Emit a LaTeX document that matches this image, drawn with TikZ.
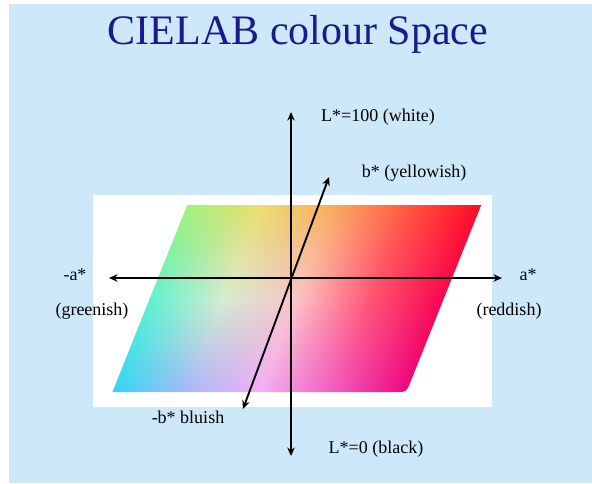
\documentclass[tikz,border=0pt]{standalone}
\usepackage{fontspec}
\setmainfont{Liberation Serif}
\usetikzlibrary{arrows.meta,shadings}
\definecolor{bgblue}{HTML}{CCE8F9}
\definecolor{titleblue}{HTML}{1A1A8C}
% top row
\definecolor{tA}{HTML}{A4F278}
\definecolor{tB}{HTML}{EEDC6E}
\definecolor{tC}{HTML}{FAAA5E}
\definecolor{tD}{HTML}{FF5840}
\definecolor{tE}{HTML}{FF0A26}
% middle row
\definecolor{mA}{HTML}{60F2D0}
\definecolor{mB}{HTML}{D6ECD0}
\definecolor{mC}{HTML}{FAC4C8}
\definecolor{mD}{HTML}{FF5474}
\definecolor{mE}{HTML}{F8064E}
% bottom row
\definecolor{bA}{HTML}{34D4F8}
\definecolor{bB}{HTML}{A6B8F8}
\definecolor{bC}{HTML}{F4AEF6}
\definecolor{bD}{HTML}{F25CBE}
\definecolor{bE}{HTML}{EE067E}
\newcommand\qd[8]{\shade[upper left=#5,upper right=#6,lower left=#7,lower right=#8] (#1,#2) rectangle (#3,#4);}
\begin{document}
\begin{tikzpicture}[x=1pt,y=-1pt,
  lbl/.style={font=\fontsize{18}{21}\selectfont, inner sep=0pt},
  axis/.style={line width=1.9pt, {Stealth[length=8.5pt,width=7.5pt]}-{Stealth[length=8.5pt,width=7.5pt]}}]
\useasboundingbox (0,0) rectangle (592,483);
\fill[white] (0,0) rectangle (592,483);
\fill[bgblue] (9,4) rectangle (592,483);
\node[font=\fontsize{42}{48}\selectfont, text=titleblue, inner sep=0pt] (title) at (298,34) {CIELAB colour Space};
\fill[white] (93,195) rectangle (492,407);
\begin{scope}[transform canvas={xslant=0.4, shift={(119.2pt,0pt)}}]
  \clip (150,205) -- (444,205) -- (444,382) .. controls (444,392) .. (434,392) -- (150,392) -- cycle;
  \qd{150}{205}{224}{299}{tA}{tB}{mA}{mB}
  \qd{223.5}{205}{297.5}{299}{tB}{tC}{mB}{mC}
  \qd{297}{205}{371}{299}{tC}{tD}{mC}{mD}
  \qd{370.5}{205}{444}{299}{tD}{tE}{mD}{mE}
  \qd{150}{298.5}{224}{392}{mA}{mB}{bA}{bB}
  \qd{223.5}{298.5}{297.5}{392}{mB}{mC}{bB}{bC}
  \qd{297}{298.5}{371}{392}{mC}{mD}{bC}{bD}
  \qd{370.5}{298.5}{444}{392}{mD}{mE}{bD}{bE}
\end{scope}
\coordinate (Ltop) at (291,112);
\coordinate (Lbot) at (291,456);
\coordinate (aneg) at (109,278);
\coordinate (apos) at (502,278);
\coordinate (bpos) at (329,177);
\coordinate (bneg) at (243,409);
\draw[axis] (Lbot) -- (Ltop);
\draw[axis] (aneg) -- (apos);
\draw[axis] (bneg) -- (bpos);
\node[lbl] (Lw) at (378,117) {L*=100 (white)};
\node[lbl] (by) at (414,173) {b* (yellowish)};
\node[lbl] (an) at (75,275) {-a*};
\node[lbl] (ag) at (92,311) {(greenish)};
\node[lbl] (ap) at (528,275) {a*};
\node[lbl] (ar) at (509,311) {(reddish)};
\node[lbl] (bb) at (188,417) {-b* bluish};
\node[lbl] (Lk) at (376,449) {L*=0 (black)};
\end{tikzpicture}
\end{document}
